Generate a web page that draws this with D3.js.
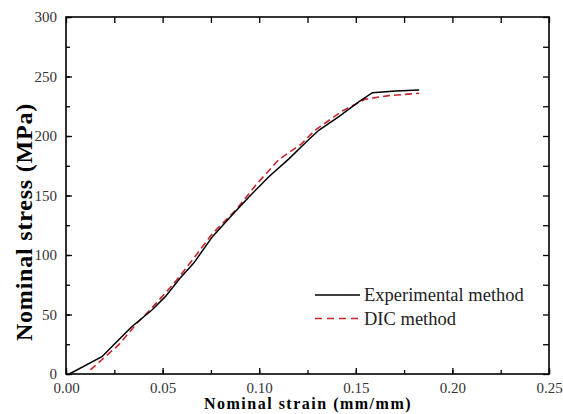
<!DOCTYPE html>
<html>
<head>
<meta charset="utf-8">
<script src="https://cdn.jsdelivr.net/npm/d3@7"></script>
<style>
  body { margin: 0; background: #fff; }
  svg text { font-family: "Liberation Serif", "Times New Roman", serif; }
</style>
</head>
<body>
<div id="chart"></div>
<script>
// strain (mm/mm) / stress (MPa)
const expStrain = [0.0017, 0.0186, 0.0255, 0.034, 0.0445, 0.0514, 0.059, 0.066, 0.0758, 0.0862, 0.0948, 0.105, 0.1155, 0.125, 0.131, 0.1414, 0.1517, 0.1586, 0.1707, 0.1828];
const expStress = [0, 14.5, 25.8, 39.7, 53.8, 65, 80.4, 93, 115.4, 134, 149, 165.8, 181, 196, 205, 216.5, 228.8, 236.4, 237.8, 238.7];
const dicStrain = [0.0126, 0.0203, 0.0272, 0.0367, 0.0427, 0.0497, 0.0566, 0.066, 0.0758, 0.0879, 0.0983, 0.110, 0.1216, 0.129, 0.143, 0.155, 0.167, 0.1828];
const dicStress = [3.4, 14.5, 24.4, 42.6, 52.4, 65, 77.6, 97, 118, 137.8, 158.8, 180, 193, 205, 221, 231, 233.9, 235.9];
const xTicks = [0, 0.05, 0.10, 0.15, 0.20, 0.25];
const yTicks = [0, 50, 100, 150, 200, 250, 300];
const seriesNames = ['Experimental method', 'DIC method'];

const W = 563, H = 414;
const M = { top: 17, right: 14, bottom: 40, left: 66 };
const w = W - M.left - M.right;
const h = H - M.top - M.bottom;

const svg = d3.select('#chart').append('svg')
    .attr('width', W)
    .attr('height', H);
const g = svg.append('g')
    .attr('transform', `translate(${M.left},${M.top})`);

const x = d3.scaleLinear().domain([0, 0.25]).range([0, w]);
const y = d3.scaleLinear().domain([0, 300]).range([h, 0]);

const minorX = d3.range(0, 0.2501, 0.025);
const minorY = d3.range(0, 300.1, 25);

// ticks inward on all four sides
function styleAxis(sel) {
    sel.select('.domain').remove();
    sel.selectAll('line').attr('stroke', '#000').attr('stroke-width', 1.3);
    sel.selectAll('text')
        .attr('font-size', 15)
        .attr('fill', '#333');
}

g.append('g').attr('transform', `translate(0,${h})`)
    .call(d3.axisBottom(x).tickValues(minorX).tickSize(-4).tickFormat(''))
    .call(styleAxis);
g.append('g').attr('transform', `translate(0,${h})`)
    .call(d3.axisBottom(x).tickValues(xTicks).tickSize(-6).tickPadding(8).tickFormat(d3.format('.2f')))
    .call(styleAxis);
g.append('g')
    .call(d3.axisTop(x).tickValues(minorX).tickSize(-6).tickFormat(''))
    .call(styleAxis);
g.append('g')
    .call(d3.axisLeft(y).tickValues(minorY).tickSize(-4).tickFormat(''))
    .call(styleAxis);
g.append('g')
    .call(d3.axisLeft(y).tickValues(yTicks).tickSize(-6).tickPadding(9).tickFormat(d3.format('d')))
    .call(styleAxis);
g.append('g').attr('transform', `translate(${w},0)`)
    .call(d3.axisRight(y).tickValues(minorY).tickSize(-6).tickFormat(''))
    .call(styleAxis);

g.append('rect')
    .attr('width', w).attr('height', h)
    .attr('fill', 'none')
    .attr('stroke', '#000')
    .attr('stroke-width', 1.6);

const line = d3.line()
    .x(d => x(d[0]))
    .y(d => y(d[1]));

const expData = d3.zip(expStrain, expStress);
const dicData = d3.zip(dicStrain, dicStress);

g.append('path').datum(dicData)
    .attr('d', line)
    .attr('fill', 'none')
    .attr('stroke', '#c8252c')
    .attr('stroke-width', 1.6)
    .attr('stroke-dasharray', '7,4');

g.append('path').datum(expData)
    .attr('d', line)
    .attr('fill', 'none')
    .attr('stroke', '#000')
    .attr('stroke-width', 1.5);

// legend
const legend = g.append('g').attr('transform', `translate(${315 - M.left},${295 - M.top})`);
seriesNames.forEach((name, i) => {
    const row = legend.append('g').attr('transform', `translate(0,${i * 23.5})`);
    row.append('line')
        .attr('x1', 0).attr('x2', 45)
        .attr('stroke', i === 0 ? '#000' : '#c8252c')
        .attr('stroke-width', 1.6)
        .attr('stroke-dasharray', i === 0 ? null : '7,5');
    row.append('text')
        .attr('x', 49).attr('y', 6)
        .attr('font-size', 18.5)
        .attr('fill', '#222')
        .text(name);
});

svg.append('text')
    .attr('x', 308)
    .attr('y', 409)
    .attr('text-anchor', 'middle')
    .attr('font-size', 16)
    .attr('font-weight', 'bold')
    .attr('letter-spacing', 1.5)
    .text('Nominal strain (mm/mm)');

svg.append('text')
    .attr('transform', `translate(32,222) rotate(-90)`)
    .attr('text-anchor', 'middle')
    .attr('font-size', 24)
    .attr('font-weight', 'bold')
    .attr('letter-spacing', 0.8)
    .text('Nominal stress (MPa)');
</script>
</body>
</html>
